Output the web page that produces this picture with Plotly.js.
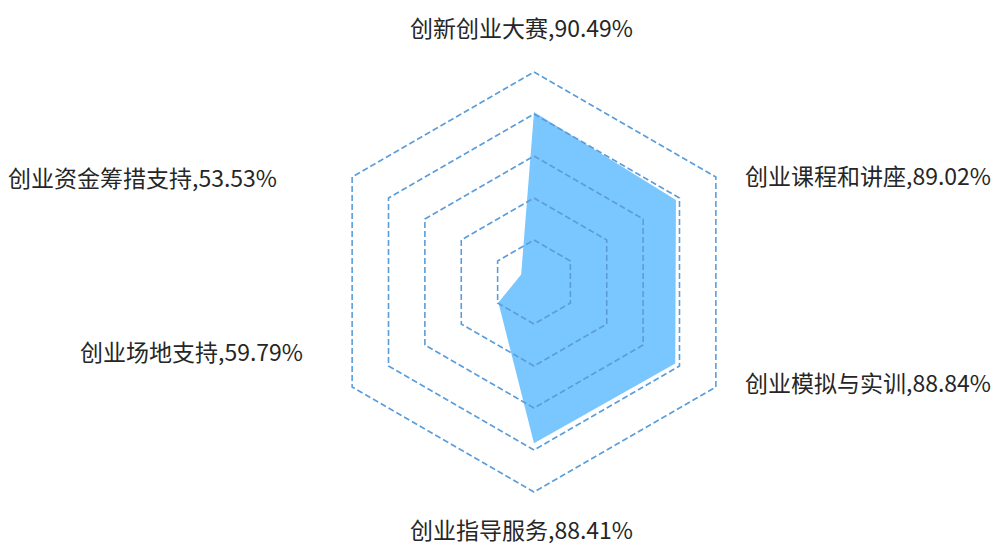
<!DOCTYPE html>
<html>
<head>
<meta charset="utf-8">
<script src="https://cdn.plot.ly/plotly-3.0.1.min.js"></script>
<style>html,body{margin:0;padding:0;background:#fff;}#chart{width:994px;height:547px;}</style>
</head>
<body>
<div id="chart"></div>
<script>
const categories = ["创新创业大赛", "创业课程和讲座", "创业模拟与实训", "创业指导服务", "创业场地支持", "创业资金筹措支持"];
const values = [90.49, 89.02, 88.84, 88.41, 59.79, 53.53];
const gridLevels = [60, 70, 80, 90, 100];
const radialRange = [50, 101];

const labels = categories.map((c, i) => c + "," + values[i].toFixed(2) + "%");

const traces = [{
  type: "scatterpolar",
  r: values.concat([values[0]]),
  theta: categories.concat([categories[0]]),
  fill: "toself",
  fillcolor: "rgb(122,198,255)",
  line: {color: "rgba(0,0,0,0)", width: 0},
  mode: "lines",
  hoverinfo: "skip",
  cliponaxis: false,
  showlegend: false
}];
gridLevels.forEach(lv => {
  traces.push({
    type: "scatterpolar",
    r: categories.map(() => lv).concat([lv]),
    theta: categories.concat([categories[0]]),
    mode: "lines",
    line: {color: "rgb(91,157,218)", width: 1.6, dash: "6px,3px"},
    hoverinfo: "skip",
    cliponaxis: false,
    showlegend: false
  });
});

// label placement (pixel): [x, y, xanchor]
const labelPos = [
  [521, 27, "center"],
  [743, 175, "left"],
  [743, 382, "left"],
  [521, 529, "center"],
  [305, 351, "right"],
  [279, 177, "right"]
];
const W = 994, H = 547;
const annotations = labels.map((t, i) => ({
  text: t,
  xref: "paper", yref: "paper",
  x: labelPos[i][0] / W, y: 1 - labelPos[i][1] / H,
  xanchor: labelPos[i][2], yanchor: "middle",
  showarrow: false,
  font: {family: "Noto Sans CJK SC, sans-serif", size: 23, color: "#262626"}
}));

const cx = 534, cy = 282, R = 210 * 51 / 50;
const layout = {
  width: W, height: H,
  margin: {l: 0, r: 0, t: 0, b: 0},
  paper_bgcolor: "#fff",
  showlegend: false,
  annotations: annotations,
  polar: {
    domain: {x: [(cx - R) / W, (cx + R) / W], y: [(H - cy - R) / H, (H - cy + R) / H]},
    bgcolor: "rgba(0,0,0,0)",
    gridshape: "linear",
    radialaxis: {
      range: radialRange, visible: true, showgrid: false, showline: false,
      showticklabels: false, ticks: ""
    },
    angularaxis: {
      type: "category",
      categoryarray: categories,
      direction: "clockwise", rotation: 90,
      showgrid: false, showline: false, showticklabels: false, ticks: ""
    }
  }
};
Plotly.newPlot("chart", traces, layout, {displayModeBar: false, staticPlot: true});
</script>
</body>
</html>
